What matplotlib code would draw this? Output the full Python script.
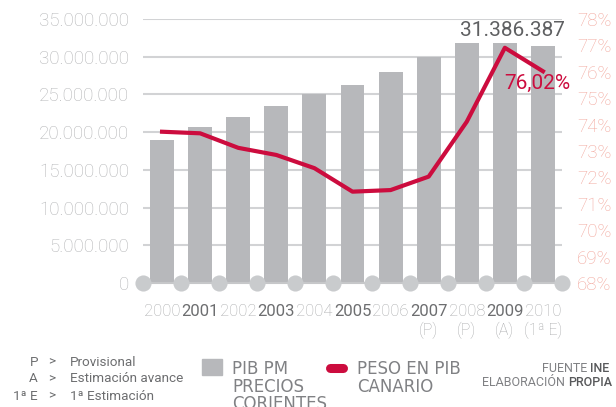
import matplotlib.pyplot as plt
import numpy as np
from matplotlib.lines import Line2D
from matplotlib.patches import Rectangle
from matplotlib.ticker import FuncFormatter

plt.rcParams['font.family'] = ['Roboto', 'DejaVu Sans']

years = ["2000", "2001", "2002", "2003", "2004", "2005",
         "2006", "2007", "2008", "2009", "2010"]
sub_labels = ["", "", "", "", "", "", "", "(P)", "(P)", "(A)", "(1ª E)"]
pib_pm = [18970000, 20700000, 21980000, 23500000, 25000000, 26300000,
          28000000, 30000000, 31800000, 31800000, 31386387]
peso_pib = [73.73, 73.67, 73.12, 72.85, 72.35, 71.46,
            71.52, 72.03, 74.11, 76.91, 76.02]

W, H = 616, 407
BAR = "#b7b8bb"
RED = "#cc0c3e"
GRID = "#d2d3d5"


def fx(x):
    return x / W


def fy(y):
    return 1 - y / H


fig = plt.figure(figsize=(W / 100, H / 100), dpi=100)
ax = fig.add_axes([fx(143), fy(283), (562 - 143) / W, (283 - 19) / H])
x = np.arange(len(years))

ax.set_xlim(-0.5, len(years) - 0.5)
ax.set_ylim(0, 35000000)
ax.set_yticks(np.arange(0, 35000001, 5000000))
ax.yaxis.set_major_formatter(FuncFormatter(lambda v, p: f"{int(v):,}".replace(",", ".")))
ax.tick_params(axis="y", length=0, pad=10, labelsize=13.5, labelcolor="#b4b5b7")
for lab in ax.get_yticklabels():
    lab.set_fontweight("light")
ax.grid(axis="y", color=GRID, lw=1.5)
ax.set_axisbelow(True)
for s in ax.spines.values():
    s.set_visible(False)

ax.bar(x, pib_pm, width=0.63, color=BAR, zorder=2)

# baseline with dots
ax.axhline(0, color="#c6c7c9", lw=1.5, zorder=3, clip_on=False)
ax.scatter(np.arange(len(years) + 1) - 0.5, np.zeros(len(years) + 1), s=135,
           color="#c9cbcd", zorder=4, clip_on=False, linewidths=0)

ax.set_xticks(x)
ax.set_xticklabels(years, fontsize=12)
ax.tick_params(axis="x", length=0, pad=15)
for i, lab in enumerate(ax.get_xticklabels()):
    if i % 2:
        lab.set_color("#6d6e70")
    else:
        lab.set_color("#a9aaac")
        lab.set_fontweight("light")
for i, s in enumerate(sub_labels):
    if s:
        ax.annotate(s, (i, 0), xytext=(0, -47), textcoords="offset pixels",
                    ha="center", va="center", fontsize=11.5, color="#a9aaac",
                    fontweight="light", annotation_clip=False)

ax.annotate(f"{pib_pm[-1]:,}".replace(",", "."), (x[-1], pib_pm[-1]),
            xytext=(22, 16), textcoords="offset pixels", ha="right", va="center",
            fontsize=15, color="#5f6062")

ax2 = ax.twinx()
ax2.set_ylim(68, 78)
ax2.set_yticks(np.arange(68, 79, 1))
ax2.yaxis.set_major_formatter(FuncFormatter(lambda v, p: f"{int(round(v))}%"))
ax2.tick_params(axis="y", length=0, pad=11, labelsize=13.5, labelcolor="#f2a79d")
for lab in ax2.get_yticklabels():
    lab.set_fontweight("light")
for s in ax2.spines.values():
    s.set_visible(False)
ax2.plot(x, peso_pib, color=RED, lw=3, solid_joinstyle="round", zorder=5)
ax2.annotate(f"{peso_pib[-1]:.2f}%".replace(".", ","), (x[-1], peso_pib[-1]),
             xytext=(-39, -12), textcoords="offset pixels", ha="left", va="center",
             fontsize=15, color=RED)

# bottom notes
notes = [("P", "Provisional"), ("A", "Estimación avance"), ("1ª E", "1ª Estimación")]
for k, (a, b) in enumerate(notes):
    yy = fy(362 + 17 * k)
    fig.text(fx(38), yy, a, ha="right", va="center", fontsize=9.7, color="#6d6e70")
    fig.text(fx(48), yy, ">", ha="left", va="center", fontsize=9.7, color="#6d6e70")
    fig.text(fx(70), yy, b, ha="left", va="center", fontsize=9.7, color="#6d6e70")

LEG = "#808184"
fig.add_artist(Rectangle((fx(202), fy(375)), 20 / W, 16 / H, transform=fig.transFigure,
                         color=BAR))
for k, t in enumerate(["PIB PM", "PRECIOS", "CORIENTES"]):
    fig.text(fx(232), fy(369 + 17.5 * k), t, ha="left", va="center",
             fontsize=12, color=LEG, family="DejaVu Sans")
fig.add_artist(Line2D([fx(330), fx(343)], [fy(368), fy(368)], transform=fig.transFigure,
                      lw=6.5, color=RED, solid_capstyle="round"))
for k, t in enumerate(["PESO EN PIB", "CANARIO"]):
    fig.text(fx(357), fy(369 + 17.5 * k), t, ha="left", va="center",
             fontsize=12, color=LEG, family="DejaVu Sans")

fig.text(fx(590), fy(369), "FUENTE ", ha="right", va="center", fontsize=9, color=LEG)
fig.text(fx(590), fy(369), "INE", ha="left", va="center", fontsize=9, color="#58595b",
         fontweight="medium")
fig.text(fx(568), fy(383), "ELABORACIÓN ", ha="right", va="center", fontsize=9, color=LEG)
fig.text(fx(568), fy(383), "PROPIA", ha="left", va="center", fontsize=9, color="#58595b",
         fontweight="medium")

fig.savefig("out.png", dpi=100)
